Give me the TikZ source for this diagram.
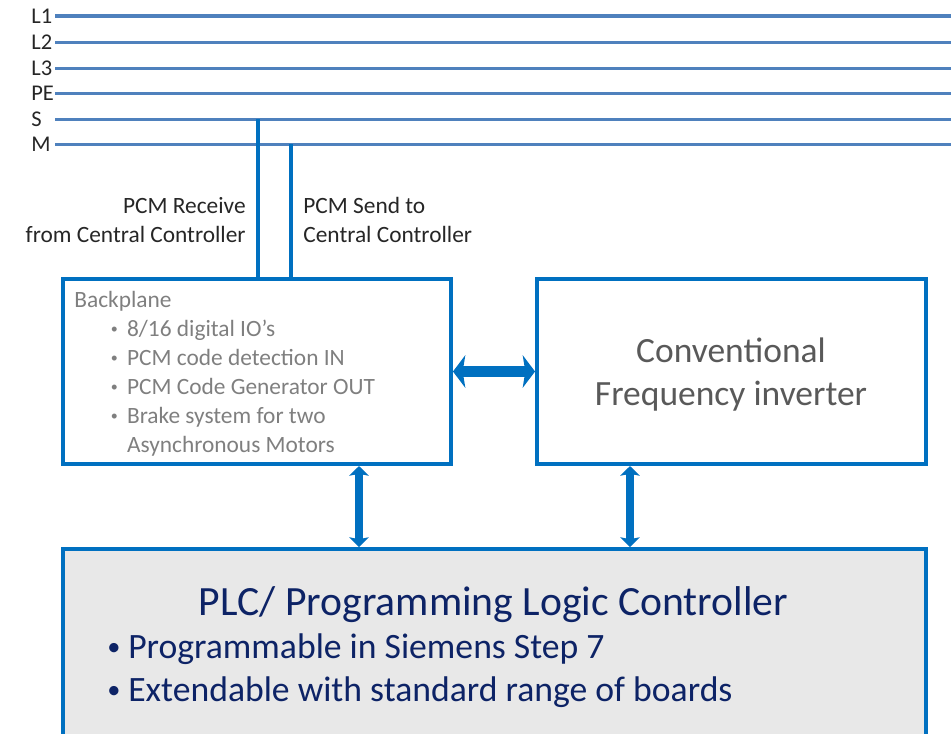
\documentclass[tikz,border=0pt]{standalone}
\usepackage{fontspec}
\setmainfont{Carlito}
\usetikzlibrary{arrows.meta}
\definecolor{busblue}{HTML}{4F81BD}
\definecolor{boxblue}{HTML}{0070C0}
\definecolor{plcgray}{HTML}{E8E8E8}
\definecolor{plcnavy}{HTML}{0D2366}
\definecolor{listgray}{HTML}{7F7F7F}
\definecolor{figray}{HTML}{595959}
\newcommand{\bpdot}{\hspace*{19.3pt}\makebox[10.7pt][l]{\hspace*{1.5pt}\raisebox{1.6pt}{\fontsize{8}{8}\selectfont•}}}
\newcommand{\plcdot}{\makebox[11.9pt][l]{\raisebox{1.6pt}{\fontsize{15}{15}\selectfont•}}}
\tikzset{
  bus/.style={busblue,line width=1.9pt},
  drop/.style={boxblue,line width=2.4pt},
  unit/.style={draw=boxblue,line width=2.3pt,inner sep=0pt},
  buslabel/.style={anchor=west,inner sep=0pt,text=black!85,font=\fontsize{12.8}{16.4}\selectfont},
  small/.style={inner sep=0pt,text=black!85,font=\fontsize{13.3}{16.4}\selectfont},
  wide/.style={boxblue,line width=6pt,{Stealth[width=18.5pt,length=7pt,inset=1.5pt]}-{Stealth[width=18.5pt,length=7pt,inset=1.5pt]}},
  tall/.style={boxblue,line width=4.5pt,{Stealth[width=11pt,length=5.5pt,inset=1pt]}-{Stealth[width=11pt,length=5.5pt,inset=1pt]}}
}
\begin{document}
\begin{tikzpicture}[x=0.02cm,y=-0.02cm]
\useasboundingbox (0,0) rectangle (951,734);
\coordinate (busW) at (55,0);
\coordinate (busE) at (960,0);
\coordinate (sdrop) at (258,0);
\coordinate (mdrop) at (291,0);
\coordinate (bpA) at (359,0);
\coordinate (fiA) at (630,0);
\node [buslabel] (lL1) at (31,16) {L1};
\node [buslabel] (lL2) at (31,42.3) {L2};
\node [buslabel] (lL3) at (31,68.3) {L3};
\node [buslabel] (lPE) at (31,93.7) {PE};
\node [buslabel] (lS) at (31,119.3) {S};
\node [buslabel] (lM) at (31,144.3) {M};
\draw [bus] (lL1 -| busW) -- (lL1 -| busE);
\draw [bus] (lL2 -| busW) -- (lL2 -| busE);
\draw [bus] (lL3 -| busW) -- (lL3 -| busE);
\draw [bus] (lPE -| busW) -- (lPE -| busE);
\draw [bus] (lS -| busW) -- (lS -| busE);
\draw [bus] (lM -| busW) -- (lM -| busE);
\node [unit,fill=plcgray,minimum width=17.26cm,minimum height=5.02cm] (plc) at (494.5,674.5) {};
\node [unit,minimum width=7.76cm,minimum height=3.70cm] (bp) at (257,371.5) {};
\node [unit,minimum width=7.78cm,minimum height=3.70cm] (fi) at (731.5,371.5) {};
\draw [drop] (lS -| sdrop) -- (bp.north -| sdrop);
\draw [drop] (lM -| mdrop) -- (bp.north -| mdrop);
\node [small,anchor=base east,align=right] (rcv) at (246,242) {PCM Receive\\from Central Controller};
\node [small,anchor=base west,align=left] (snd) at (303,242) {PCM Send to\\Central Controller};
\node [small,text=listgray,anchor=base west,align=left] (bplist) at (74,452) {Backplane\\
\bpdot 8/16 digital IO’s\\
\bpdot PCM code detection IN\\
\bpdot PCM Code Generator OUT\\
\bpdot Brake system for two\\
\hspace*{30pt}Asynchronous Motors};
\node [inner sep=0pt,text=figray,anchor=base,align=center,font=\fontsize{20.2}{24.4}\selectfont] (fitext) at (731,405) {Conventional\\Frequency inverter};
\node [inner sep=0pt,text=plcnavy,anchor=base,font=\fontsize{23.7}{28}\selectfont] (plctitle) at (493.5,615) {PLC/ Programming Logic Controller};
\node [inner sep=0pt,text=plcnavy,anchor=base west,align=left,font=\fontsize{20.3}{24.4}\selectfont] (plclist) at (107,701) {\plcdot Programmable in Siemens Step 7\\
\plcdot Extendable with standard range of boards};
\draw [wide] (bp.east) -- (fi.west);
\draw [tall] (bp.south -| bpA) -- (plc.north -| bpA);
\draw [tall] (fi.south -| fiA) -- (plc.north -| fiA);
\end{tikzpicture}
\end{document}
